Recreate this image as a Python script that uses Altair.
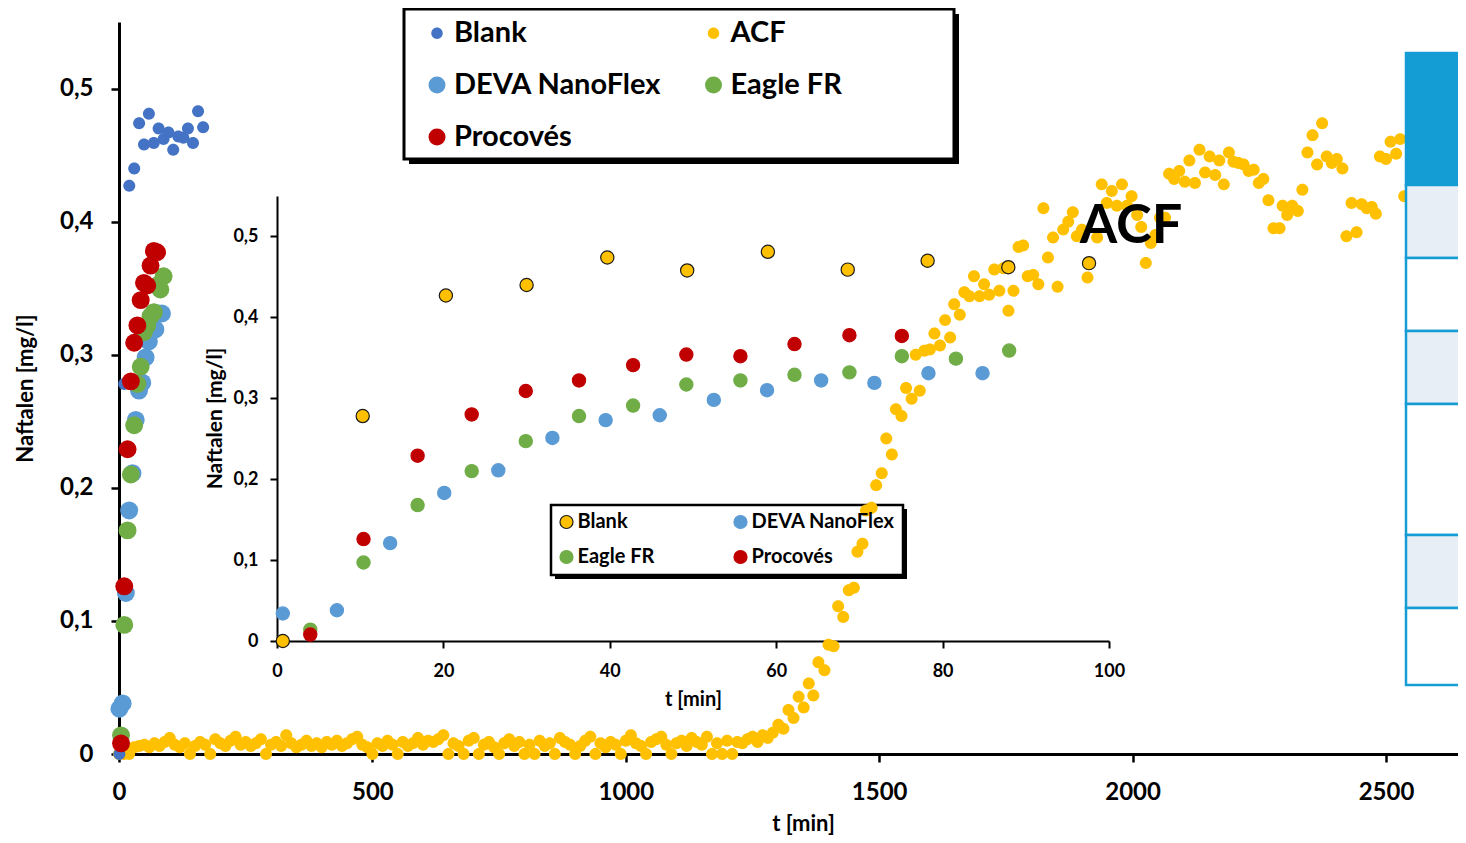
import altair as alt
import pandas as pd

# ---------------- data ----------------
# legend order is column-major (2 columns): rows read Blank|ACF, DEVA|Eagle, Procovés
main_order = ["Blank", "DEVA NanoFlex", "Procovés", "ACF", "Eagle FR"]
main_colors = ["#4472C4", "#5B9BD5", "#C00000", "#FFC000", "#70AD47"]
SMALL = "M -0.67 0 A 0.67 0.67 0 1 0 0.67 0 A 0.67 0.67 0 1 0 -0.67 0 Z"
main_shapes = [SMALL, "circle", "circle", SMALL, "circle"]

# rows read Blank|DEVA, Eagle|Procovés
inset_order = ["Blank", "Eagle FR", "DEVA NanoFlex", "Procovés"]
inset_fill = ["#FFC000", "#70AD47", "#5B9BD5", "#C00000"]
inset_stroke = ["#1a1a1a", "#70AD47", "#5B9BD5", "#C00000"]

blank_t = [0.7, 10.3, 20.3, 30, 39.7, 49.3, 59, 68.6, 78.2, 87.9, 97.6, 107, 117, 127, 136, 146, 156, 166]
blank_c = [0.0, 0.278, 0.427, 0.440, 0.474, 0.458, 0.481, 0.459, 0.470, 0.462, 0.467, 0.454, 0.464, 0.463, 0.470, 0.459, 0.483, 0.471]
blank_inset_n = 11

deva_t = [0.7, 7.2, 13.6, 20.1, 26.6, 33.1, 39.5, 46, 52.5, 58.9, 65.4, 71.8, 78.3, 84.8]
deva_c = [0.034, 0.038, 0.121, 0.183, 0.211, 0.251, 0.273, 0.279, 0.298, 0.310, 0.322, 0.319, 0.331, 0.331]

eagle_t = [4, 10.4, 16.9, 23.4, 29.9, 36.3, 42.8, 49.2, 55.7, 62.2, 68.8, 75.1, 81.6, 88]
eagle_c = [0.014, 0.097, 0.168, 0.210, 0.247, 0.278, 0.291, 0.317, 0.322, 0.329, 0.332, 0.352, 0.349, 0.359]

proc_t = [4, 10.4, 16.9, 23.4, 29.9, 36.3, 42.8, 49.2, 55.7, 62.2, 68.8, 75.1]
proc_c = [0.008, 0.126, 0.229, 0.280, 0.309, 0.322, 0.341, 0.354, 0.352, 0.367, 0.378, 0.377]

# ACF baseline: one reading every 10 min from 0 to 1290 min (values in mg/l)
acf_base_t = list(range(0, 1300, 10))
acf_base_c = [
    0.000, 0.000, 0.000, 0.005, 0.006, 0.007, 0.005, 0.008, 0.006, 0.009,
    0.012, 0.007, 0.005, 0.008, 0.000, 0.006, 0.009, 0.007, 0.000, 0.011,
    0.008, 0.006, 0.010, 0.013, 0.007, 0.009, 0.006, 0.008, 0.011, 0.000,
    0.007, 0.009, 0.006, 0.014, 0.008, 0.005, 0.007, 0.010, 0.006, 0.008,
    0.005, 0.009, 0.007, 0.010, 0.006, 0.008, 0.011, 0.013, 0.007, 0.005,
    0.000, 0.008, 0.006, 0.010, 0.007, 0.000, 0.009, 0.006, 0.008, 0.012,
    0.007, 0.010, 0.009, 0.011, 0.014, 0.000, 0.008, 0.006, 0.000, 0.010,
    0.012, 0.000, 0.007, 0.009, 0.005, 0.000, 0.008, 0.011, 0.006, 0.009,
    0.000, 0.007, 0.000, 0.010, 0.006, 0.008, 0.000, 0.012, 0.009, 0.007,
    0.000, 0.006, 0.010, 0.013, 0.000, 0.008, 0.005, 0.009, 0.007, 0.000,
    0.010, 0.014, 0.008, 0.006, 0.000, 0.009, 0.011, 0.013, 0.007, 0.000,
    0.008, 0.010, 0.006, 0.012, 0.009, 0.007, 0.013, 0.000, 0.008, 0.000,
    0.010, 0.000, 0.009, 0.008, 0.011, 0.013, 0.009, 0.014, 0.012, 0.016,
]
acf_rise_t = [1301, 1311, 1321, 1331, 1341, 1351, 1361, 1370, 1380, 1392, 1400, 1410, 1419, 1429, 1440,
              1450, 1457, 1467, 1474, 1485, 1494, 1505, 1514, 1525, 1533, 1544, 1553, 1564, 1572, 1580,
              1589, 1600, 1609, 1620, 1630, 1640, 1648, 1659, 1668, 1678, 1687, 1698, 1707, 1717, 1727,
              1737, 1745, 1755, 1765, 1775, 1784, 1793, 1804, 1814, 1824, 1833, 1843, 1852, 1863, 1873,
              1882, 1890, 1900, 1911, 1930, 1939, 1949, 1959, 1969, 1979, 1989, 1998, 2009, 2017, 2026,
              2036, 2045, 2054, 2064, 2072, 2082, 2092, 2103, 2112, 2123, 2132, 2143, 2152, 2163, 2171,
              2180, 2190, 2199, 2209, 2219, 2229, 2239, 2249, 2258, 2268, 2278, 2290, 2296, 2305, 2315,
              2326, 2335, 2345, 2355, 2364, 2374, 2383, 2393, 2403, 2414, 2422, 2432, 2442, 2452, 2462,
              2472, 2480, 2488, 2500, 2509, 2520, 2528, 2536]
acf_rise_c = [0.022, 0.019, 0.033, 0.027, 0.043, 0.035, 0.053, 0.044, 0.069, 0.063, 0.082, 0.081, 0.111, 0.103, 0.123,
              0.125, 0.152, 0.158, 0.183, 0.185, 0.202, 0.211, 0.237, 0.225, 0.259, 0.254, 0.275, 0.267, 0.300, 0.273,
              0.303, 0.304, 0.316, 0.307, 0.326, 0.313, 0.338, 0.330, 0.347, 0.344, 0.359, 0.344, 0.353, 0.345, 0.364,
              0.348, 0.365, 0.333, 0.348, 0.381, 0.382, 0.359, 0.360, 0.353, 0.410, 0.373, 0.388, 0.351, 0.394, 0.400,
              0.407, 0.389, 0.394, 0.358, 0.388, 0.428, 0.414, 0.423, 0.412, 0.428, 0.412, 0.419, 0.405, 0.396, 0.369,
              0.384, 0.390, 0.403, 0.403, 0.436, 0.432, 0.438, 0.430, 0.446, 0.429, 0.454, 0.437, 0.449, 0.435, 0.446,
              0.428, 0.452, 0.445, 0.444, 0.443, 0.438, 0.439, 0.429, 0.432, 0.416, 0.395, 0.395, 0.412, 0.405, 0.412,
              0.408, 0.424, 0.452, 0.465, 0.443, 0.474, 0.449, 0.444, 0.447, 0.440, 0.389, 0.414, 0.392, 0.413, 0.410,
              0.411, 0.406, 0.449, 0.447, 0.460, 0.451, 0.462, 0.419]

annot_text = ["ACF"]
annot_t = [1997]
annot_c = [0.396]

main_x_ticks = [0, 500, 1000, 1500, 2000, 2500]
inset_x_ticks = [0, 20, 40, 60, 80, 100]
y_ticks = [0, 0.1, 0.2, 0.3, 0.4, 0.5]

# ---------------- tables ----------------
rows = []
for t, c in zip(acf_base_t + acf_rise_t, acf_base_c + acf_rise_c):
    rows.append(("ACF", t, c))
for t, c in zip(blank_t, blank_c):
    rows.append(("Blank", t, c))
for t, c in zip(deva_t, deva_c):
    rows.append(("DEVA NanoFlex", t, c))
for t, c in zip(eagle_t, eagle_c):
    rows.append(("Eagle FR", t, c))
for t, c in zip(proc_t, proc_c):
    rows.append(("Procovés", t, c))
main_df = pd.DataFrame(rows, columns=["series", "t", "c"])
main_df["ord"] = range(len(main_df))

irows = []
for t, c in zip(deva_t, deva_c):
    irows.append(("DEVA NanoFlex", t, c))
for t, c in zip(eagle_t, eagle_c):
    irows.append(("Eagle FR", t, c))
for t, c in zip(proc_t, proc_c):
    irows.append(("Procovés", t, c))
for t, c in zip(blank_t[:blank_inset_n], blank_c[:blank_inset_n]):
    irows.append(("Blank", t, c))
inset_df = pd.DataFrame(irows, columns=["series", "t", "c"])
inset_df["ord"] = range(len(inset_df))

annot_df = pd.DataFrame({"t": annot_t, "c": annot_c, "label": annot_text})

# ---------------- layout / style ----------------
FONT = "Lato"
OX, OY = 119, 22          # plot origin on the page
W, H = 1458 - OX, 732     # main plot area
PX_PER_MIN = 0.5068
XMAX = W / PX_PER_MIN
INSET_XR = [158, 990]
INSET_YR = [619, 174]

comma_expr = "datum.value == 0 ? '0' : replace(format(datum.value, '.1f'), '.', ',')"

main_x_axis = alt.Axis(
    orient="bottom", values=main_x_ticks, format="d", grid=False, labelFlush=False,
    labelFont=FONT, labelFontSize=24, labelFontWeight="bold", labelColor="black", labelPadding=18,
    domainColor="black", domainWidth=3, tickColor="black", tickWidth=2.5, tickSize=8,
    title="t [min]", titleFont=FONT, titleFontSize=22, titleFontWeight="bold", titleColor="black",
    titleX=684, titleY=69, titleAlign="center", titleBaseline="middle",
)
main_y_axis = alt.Axis(
    orient="left", values=y_ticks, labelExpr=comma_expr, grid=False, labelFlush=False,
    labelFont=FONT, labelFontSize=24, labelFontWeight="bold", labelColor="black", labelPadding=18,
    domainColor="black", domainWidth=3, tickColor="black", tickWidth=2.5, tickSize=8,
    title="Naftalen [mg/l]", titleFont=FONT, titleFontSize=22, titleFontWeight="bold", titleColor="black",
    titleX=-94, titleY=366, titleAngle=270, titleAlign="center", titleBaseline="middle",
)
inset_x_axis = alt.Axis(
    orient="bottom", offset=-113, values=inset_x_ticks, format="d", grid=False, labelFlush=False,
    labelFont=FONT, labelFontSize=18, labelFontWeight="bold", labelColor="black", labelPadding=14,
    domainColor="black", domainWidth=2, tickColor="black", tickWidth=2, tickSize=7,
    title="t [min]", titleFont=FONT, titleFontSize=20, titleFontWeight="bold", titleColor="black",
    titleX=574, titleY=58, titleAlign="center", titleBaseline="middle",
)
inset_y_axis = alt.Axis(
    orient="left", offset=-158, values=y_ticks, labelExpr=comma_expr, grid=False, labelFlush=False,
    labelFont=FONT, labelFontSize=18, labelFontWeight="bold", labelColor="black", labelPadding=12,
    domainColor="black", domainWidth=2, tickColor="black", tickWidth=2, tickSize=7,
    title="Naftalen [mg/l]", titleFont=FONT, titleFontSize=21, titleFontWeight="bold", titleColor="black",
    titleX=-62, titleY=396, titleAngle=270, titleAlign="center", titleBaseline="middle",
)

main_legend = alt.Legend(
    orient="none", legendX=303.5, legendY=-3.5, columns=2, title=None, padding=0,
    labelFont=FONT, labelFontSize=29, labelFontWeight="bold", labelColor="black", labelLimit=500,
    labelOffset=2.5, rowPadding=22, columnPadding=37.5, symbolSize=290, symbolStrokeWidth=0,
    symbolOpacity=1,
)
inset_legend = alt.Legend(
    orient="none", legendX=437.5, legendY=490, columns=2, title=None, padding=0,
    labelFont=FONT, labelFontSize=20, labelFontWeight="bold", labelColor="black", labelLimit=400,
    labelOffset=1, rowPadding=15, columnPadding=76, symbolType="circle", symbolSize=170,
    symbolStrokeWidth=1.2, symbolOpacity=1,
)


def box(x1, y1, x2, y2, fill, stroke=None, sw=0):
    kw = dict(fill=fill)
    if stroke is not None:
        kw.update(stroke=stroke, strokeWidth=sw)
    return alt.Chart(pd.DataFrame({"k": [0]})).mark_rect(**kw).encode(
        x=alt.value(x1 - OX), x2=alt.value(x2 - OX), y=alt.value(y1 - OY), y2=alt.value(y2 - OY)
    )


decor_under = [
    box(409, 14, 959, 164, "black"),
    box(404, 9, 954, 159, "white", "black", 3),
    box(555, 509, 907, 579, "black"),
    box(551, 505, 903, 575, "white", "black", 2.5),
]

TABLE_BLUE = "#149DD5"
LIGHT = "#E8EEF5"
table_rows = [(53, 185, TABLE_BLUE), (185, 258, LIGHT), (258, 331, "white"), (331, 404, LIGHT),
              (404, 535, "white"), (535, 608, LIGHT), (608, 685, "white")]
decor_table = [box(1406, y1, OX + W + 4, y2, f, TABLE_BLUE, 2.5) for (y1, y2, f) in table_rows]

main_points = alt.Chart(main_df).mark_point(filled=True, opacity=1, size=320, strokeWidth=0).encode(
    x=alt.X("t:Q", scale=alt.Scale(domain=[0, XMAX], nice=False, zero=False), axis=main_x_axis),
    y=alt.Y("c:Q", scale=alt.Scale(domain=[0, 0.55], nice=False), axis=main_y_axis),
    color=alt.Color("series:N", scale=alt.Scale(domain=main_order, range=main_colors), legend=main_legend),
    shape=alt.Shape("series:N", scale=alt.Scale(domain=main_order, range=main_shapes), legend=main_legend),
    order=alt.Order("ord:Q"),
)

annot = alt.Chart(annot_df).mark_text(
    font=FONT, fontSize=54, fontWeight="bold", color="black", align="center", baseline="middle"
).encode(
    x=alt.X("t:Q", scale=alt.Scale(domain=[0, XMAX], nice=False, zero=False), axis=None),
    y=alt.Y("c:Q", scale=alt.Scale(domain=[0, 0.55], nice=False), axis=None),
    text="label:N",
)

inset_points = alt.Chart(inset_df).mark_circle(opacity=1, size=175, strokeWidth=1.2).encode(
    x=alt.X("t:Q", scale=alt.Scale(domain=[0, 100], range=INSET_XR, nice=False, zero=False), axis=inset_x_axis),
    y=alt.Y("c:Q", scale=alt.Scale(domain=[0, 0.55], range=INSET_YR, nice=False), axis=inset_y_axis),
    fill=alt.Fill("series:N", scale=alt.Scale(domain=inset_order, range=inset_fill), legend=inset_legend),
    stroke=alt.Stroke("series:N", scale=alt.Scale(domain=inset_order, range=inset_stroke), legend=inset_legend),
    order=alt.Order("ord:Q"),
)

chart = alt.layer(
    *decor_under, main_points, annot, inset_points, *decor_table
).resolve_scale(
    x="independent", y="independent", color="independent", shape="independent",
    fill="independent", stroke="independent",
).properties(
    width=W, height=H,
    autosize=alt.AutoSizeParams(type="none"),
    padding={"left": OX - 8, "top": OY - 8, "right": 0, "bottom": 843 - 16 - (OY - 8) - H},
).configure_view(stroke=None)

chart.save("out.html", embed_options={"renderer": "svg", "actions": False})
